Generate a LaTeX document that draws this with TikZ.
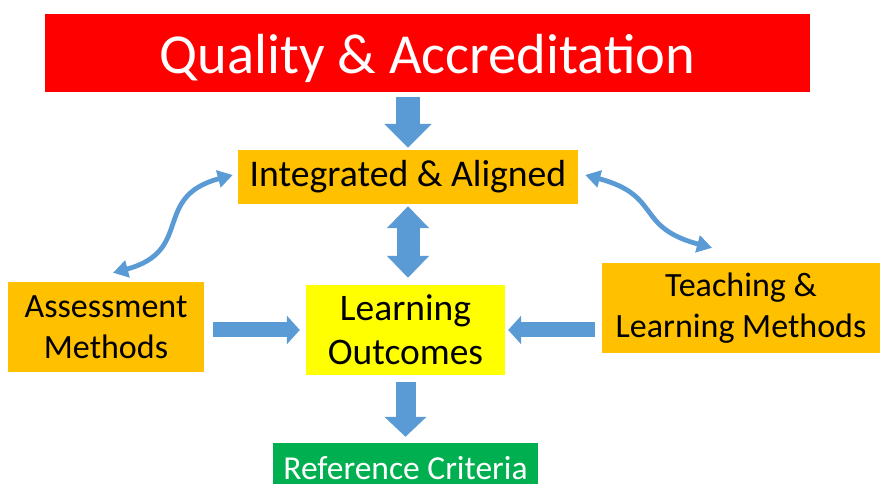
\documentclass[tikz,border=0pt]{standalone}
\usepackage{fontspec}
\setmainfont{Carlito}
\usetikzlibrary{arrows.meta}
\definecolor{qred}{HTML}{FF0000}
\definecolor{qorange}{HTML}{FFC000}
\definecolor{qyellow}{HTML}{FFFF00}
\definecolor{qgreen}{HTML}{00B050}
\definecolor{qblue}{HTML}{5B9BD5}
\begin{document}
\begin{tikzpicture}[x=1pt,y=1pt,
    box/.style={inner sep=0pt,align=center,font=\fontsize{34}{41}\selectfont},
    blockarrow/.style={draw=qblue},
    curvy/.style={draw=qblue,line width=4.8pt,looseness=1.4,{Triangle[width=17pt,length=15pt]}-{Triangle[width=17pt,length=15pt]}}]
  \useasboundingbox (0,0) rectangle (880,484);
  \fill[white] (0,0) rectangle (880,484);
  \draw
    (427.5,431) node[box,fill=qred,text=white,minimum width=765,minimum height=78,text height=52pt,text depth=11pt,font=\fontsize{56.5}{68}\selectfont] (quality){Quality \& Accreditation}
    (408,307) node[box,fill=qorange,minimum width=340,minimum height=54,font=\fontsize{37.7}{45}\selectfont] (integ){Integrated \& Aligned}
    (405.5,154) node[box,fill=qyellow,minimum width=199,minimum height=90,font=\fontsize{37.5}{44}\selectfont] (lo){Learning\\Outcomes}
    (106,157) node[box,fill=qorange,minimum width=196,minimum height=90] (assess){Assessment\\Methods}
    (741,176) node[box,fill=qorange,minimum width=278,minimum height=90] (teach){Teaching \&\\Learning Methods}
    (405.5,20.5) node[box,fill=qgreen,text=white,minimum width=265,minimum height=41,text height=32pt,text depth=0pt,font=\fontsize{33.5}{40}\selectfont] (ref){Reference Criteria};
  \begin{scope}[blockarrow]
    \draw[line width=24pt,-{Triangle[length=24pt,width=46pt]},shorten <=5pt,shorten >=2pt]
      (integ.north |- quality.south) to (integ.north);
    \draw[line width=23pt,{Triangle[length=22pt,width=41pt]}-{Triangle[length=22pt,width=41pt]},shorten <=2pt,shorten >=7pt]
      (integ.south) to (integ.south |- lo.north);
    \draw[line width=15pt,-{Triangle[length=13pt,width=28pt]},shorten <=9pt,shorten >=6pt]
      (assess.east |- lo) to (lo.west);
    \draw[line width=15pt,-{Triangle[length=13pt,width=28pt]},shorten <=7pt,shorten >=3pt]
      (teach.west |- lo) to (lo.east);
    \draw[line width=20pt,-{Triangle[length=20pt,width=41pt]},shorten <=7pt,shorten >=6pt]
      (lo.south) to (lo.south |- ref.north);
  \end{scope}
  \draw[curvy] ([shift={(7,9)}]assess.north) to[out=15,in=195] ([shift={(-5,2)}]integ.west);
  \draw[curvy] ([shift={(7,2)}]integ.east) to[out=-15,in=165] ([shift={(-29,15)}]teach.north);
\end{tikzpicture}
\end{document}
